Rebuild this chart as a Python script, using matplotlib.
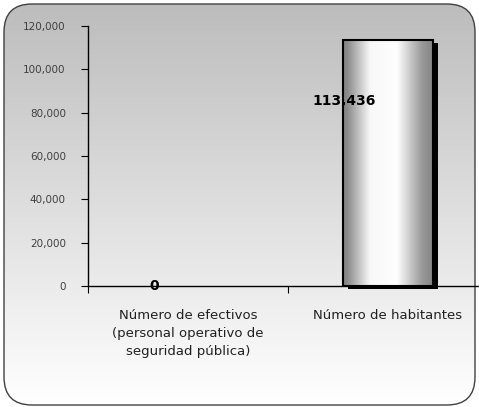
import numpy as np
import matplotlib
matplotlib.use("Agg")
import matplotlib.pyplot as plt
from matplotlib.patches import FancyBboxPatch, Rectangle

categories = ["Número de efectivos\n(personal operativo de\nseguridad pública)", "Número de habitantes"]
values = [0, 113436]
value_labels = ["0", "113,436"]
yticks = [0, 20000, 40000, 60000, 80000, 100000, 120000]

W, H = 479, 407
fig = plt.figure(figsize=(W / 100, H / 100), dpi=100)
fig.patch.set_facecolor("white")

# background rounded panel with vertical gradient
bg = fig.add_axes([0, 0, 1, 1], zorder=0)
bg.set_xlim(0, W)
bg.set_ylim(0, H)
bg.axis("off")
grad = np.linspace(0.74, 1.0, 256).reshape(-1, 1)
img = bg.imshow(np.dstack([grad, grad, grad]), extent=[4, 475, 2, 403], origin="upper",
                aspect="auto", interpolation="bilinear")
box = FancyBboxPatch((4, 2), 471, 401, boxstyle="round,pad=0,rounding_size=28",
                     facecolor="none", edgecolor="#404040", linewidth=1.0)
bg.add_patch(box)
img.set_clip_path(box)

# main axes
left = 88 / W
bottom = (H - 286) / H
width = 400 / W
height = 260 / H
ax = fig.add_axes([left, bottom, width, height], zorder=1)
ax.patch.set_alpha(0)
ax.set_xlim(-0.5, 1.5)
ax.set_ylim(0, 120000)
for s in ["top", "right"]:
    ax.spines[s].set_visible(False)
for s in ["left", "bottom"]:
    ax.spines[s].set_color("black")
    ax.spines[s].set_linewidth(1.0)

ax.set_yticks(yticks)
ax.set_yticklabels([f"{v:,}" for v in yticks], fontsize=7.5, color="#404040")
ax.tick_params(axis="y", direction="out", length=5, width=0.8, pad=11)
ax.set_xticks([-0.5, 0.5, 1.5])
ax.set_xticklabels([])
ax.tick_params(axis="x", direction="out", length=5, width=0.8)
for i, c in enumerate(categories):
    ax.text(i, -10500, c, ha="center", va="top", fontsize=9.5, color="#202020",
            linespacing=1.5)

bw = 0.45
# horizontal cylinder-like gradient for bars
xs = np.linspace(0, 1, 256)
prof = np.interp(xs, [0, 0.05, 0.3, 0.6, 0.88, 1.0], [0.5, 0.55, 0.97, 1.0, 0.6, 0.52])
gimg = np.dstack([prof, prof, prof]).reshape(1, -1, 3)

px_x = 2.0 / 400  # data units per pixel in x
px_y = 120000 / 260
for i, v in enumerate(values):
    if v <= 0:
        continue
    sh = Rectangle((i - bw / 2 + 5 * px_x, -3 * px_y), bw, v, facecolor="black",
                   edgecolor="none", zorder=2, clip_on=False)
    ax.add_patch(sh)
    r = Rectangle((i - bw / 2, 0), bw, v, facecolor="none", edgecolor="black",
                  linewidth=1.5, zorder=4)
    ax.add_patch(r)
    im = ax.imshow(gimg, extent=[i - bw / 2, i + bw / 2, 0, v], aspect="auto",
                   zorder=3, interpolation="bilinear")
    im.set_clip_path(r)

ax.set_xlim(-0.5, 1.5)
ax.set_ylim(0, 120000)

# data labels
ax.text(-0.17, 0, value_labels[0], ha="center", va="center", fontsize=10,
        fontweight="bold", color="black", zorder=5)
ax.text(0.78, 85400, value_labels[1], ha="center", va="center", fontsize=10,
        fontweight="bold", color="black", zorder=5)

fig.savefig("out.png", dpi=100)
